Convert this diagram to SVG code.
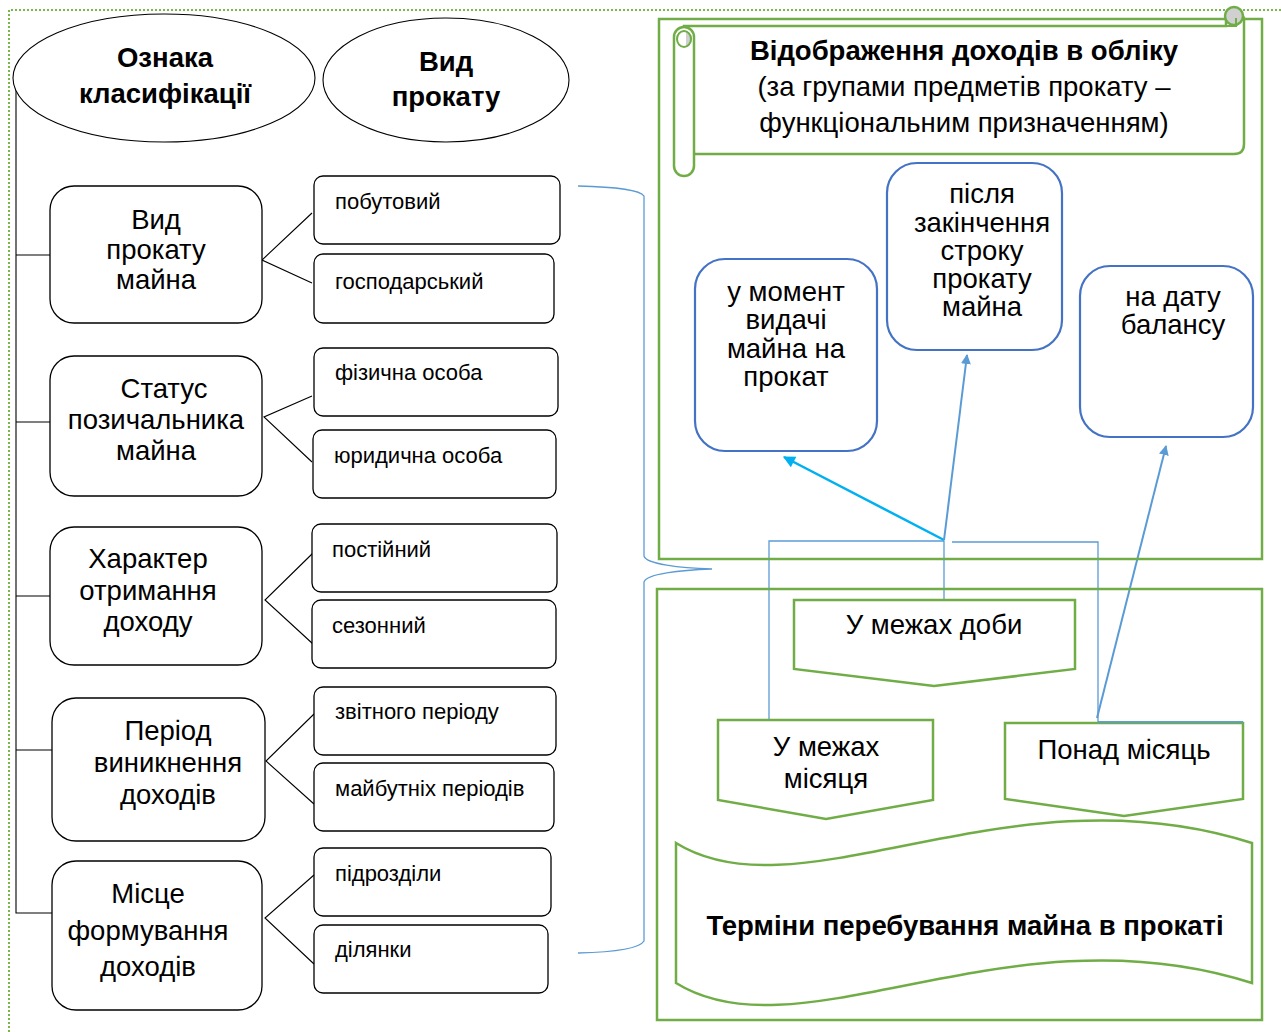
<svg xmlns="http://www.w3.org/2000/svg" width="1281" height="1032" viewBox="0 0 1281 1032">
<defs>
<marker id="ahBlue" viewBox="0 0 10 10" refX="9" refY="5" markerWidth="10" markerHeight="10" markerUnits="userSpaceOnUse" orient="auto"><path d="M0,0 L10,5 L0,10 Z" fill="#5B9BD5"/></marker>
<marker id="ahCyan" viewBox="0 0 10 10" refX="9" refY="5" markerWidth="14" markerHeight="12" markerUnits="userSpaceOnUse" orient="auto"><path d="M0,0 L10,5 L0,10 Z" fill="#00B0F0"/></marker>
</defs>
<style>
text{font-family:"Liberation Sans",Arial,sans-serif;fill:#000}
.big{font-size:27.5px;text-anchor:middle}
.bold{font-weight:bold}
.sub{font-size:22px}
.bx{fill:#fff;stroke:#000;stroke-width:1.3}
.gr{fill:none;stroke:#70AD47;stroke-width:2.5}
.grf{fill:#fff;stroke:#70AD47;stroke-width:2.5}
.bl{fill:#fff;stroke:#4472C4;stroke-width:2.2}
.thin{fill:none;stroke:#5B9BD5;stroke-width:1.3}
.ln{fill:none;stroke:#000;stroke-width:1.1}
</style>
<rect width="1281" height="1032" fill="#fff"/>
<path d="M9,1032 L9,10 L1281,10" fill="none" stroke="#7AB648" stroke-width="2" stroke-dasharray="2 2"/>

<g id="connectors">
<path class="ln" d="M16,84 L16,913 L52,913 M16,255 L50,255 M16,422 L50,422 M16,596 L50,596 M16,750 L52,750"/>
<path class="ln" d="M312,213 L262,260 L312,283 M312,396 L264,417 L312,462 M313,553 L265,600 L313,644 M314,714 L266,761 L314,804 M314,875 L265,918 L314,964"/>
<path class="thin" d="M578,186 C620,187 640,190 644,196 L644,556 C646,564 680,568 712,569 C680,570 646,574 644,582 L644,941 C640,948 620,952 578,953"/>
<path class="thin" d="M769,720 L769,541 L944,541 L944,600 M952,542 L1098,542 L1098,722 L1243,722"/>
<line x1="944" y1="540" x2="784" y2="457" stroke="#00B0F0" stroke-width="2.5" marker-end="url(#ahCyan)"/>
<line x1="944" y1="540" x2="967" y2="355" stroke="#5B9BD5" stroke-width="2" marker-end="url(#ahBlue)"/>
<line x1="1097" y1="718" x2="1166" y2="446" stroke="#5B9BD5" stroke-width="2" marker-end="url(#ahBlue)"/>
</g>

<g id="ell1"><ellipse cx="164" cy="78" rx="151" ry="64" fill="#fff" stroke="#000" stroke-width="1.1"/>
<text class="big bold" x="165" y="67">Ознака</text><text class="big bold" x="165" y="103">класифікації</text></g>
<g id="ell2"><ellipse cx="446" cy="80" rx="123" ry="62" fill="#fff" stroke="#000" stroke-width="1.1"/>
<text class="big bold" x="446" y="71">Вид</text><text class="big bold" x="446" y="106">прокату</text></g>

<g id="c1"><rect class="bx" x="50" y="186" width="212" height="137" rx="24"/>
<text class="big" x="156" y="229">Вид</text><text class="big" x="156" y="259">прокату</text><text class="big" x="156" y="289">майна</text></g>
<g id="c2"><rect class="bx" x="50" y="356" width="212" height="140" rx="24"/>
<text class="big" x="164" y="398">Статус</text><text class="big" x="156" y="429">позичальника</text><text class="big" x="156" y="460">майна</text></g>
<g id="c3"><rect class="bx" x="50" y="527" width="212" height="138" rx="24"/>
<text class="big" x="148" y="568">Характер</text><text class="big" x="148" y="600">отримання</text><text class="big" x="148" y="631">доходу</text></g>
<g id="c4"><rect class="bx" x="52" y="698" width="213" height="143" rx="24"/>
<text class="big" x="168" y="740">Період</text><text class="big" x="168" y="772">виникнення</text><text class="big" x="168" y="804">доходів</text></g>
<g id="c5"><rect class="bx" x="52" y="861" width="210" height="149" rx="24"/>
<text class="big" x="148" y="903">Місце</text><text class="big" x="148" y="940">формування</text><text class="big" x="148" y="976">доходів</text></g>

<g id="s1"><rect class="bx" x="314" y="176" width="246" height="68" rx="9"/><text class="sub" x="335" y="209">побутовий</text></g>
<g id="s2"><rect class="bx" x="314" y="254" width="240" height="69" rx="9"/><text class="sub" x="335" y="289">господарський</text></g>
<g id="s3"><rect class="bx" x="314" y="348" width="244" height="68" rx="9"/><text class="sub" x="335" y="380">фізична особа</text></g>
<g id="s4"><rect class="bx" x="313" y="430" width="243" height="68" rx="9"/><text class="sub" x="334" y="463">юридична особа</text></g>
<g id="s5"><rect class="bx" x="312" y="524" width="245" height="68" rx="9"/><text class="sub" x="332" y="557">постійний</text></g>
<g id="s6"><rect class="bx" x="312" y="600" width="244" height="68" rx="9"/><text class="sub" x="332" y="633">сезонний</text></g>
<g id="s7"><rect class="bx" x="314" y="687" width="242" height="68" rx="9"/><text class="sub" x="335" y="719">звітного періоду</text></g>
<g id="s8"><rect class="bx" x="314" y="763" width="240" height="68" rx="9"/><text class="sub" x="335" y="796">майбутніх періодів</text></g>
<g id="s9"><rect class="bx" x="314" y="848" width="237" height="68" rx="9"/><text class="sub" x="335" y="881">підрозділи</text></g>
<g id="s10"><rect class="bx" x="314" y="925" width="234" height="68" rx="9"/><text class="sub" x="335" y="957">ділянки</text></g>

<g id="upperFrame"><rect class="gr" x="659" y="19" width="603" height="540"/></g>
<g id="scroll">
<path class="grf" d="M684,26 L1226,26 L1226,18 A10,10 0 0 1 1244,18 L1244,144 Q1244,154 1234,154 L694,154 Z"/>
<circle cx="1234" cy="16" r="9" fill="#D0D0D0" stroke="#70AD47" stroke-width="2.5"/>
<path d="M1226,26 L1236,26 L1236,18" fill="none" stroke="#70AD47" stroke-width="2"/>
<rect class="grf" x="674" y="27" width="20" height="149" rx="10"/>
<path d="M686,32 A6,7 0 0 1 686,46 Z" fill="#D0D0D0"/>
<ellipse cx="684" cy="39" rx="7" ry="8" fill="none" stroke="#70AD47" stroke-width="2"/>
<text class="big bold" x="964" y="60">Відображення доходів в обліку</text>
<text class="big" x="964" y="96">(за групами предметів прокату –</text>
<text class="big" x="964" y="132">функціональним призначенням)</text>
</g>
<g id="b1"><rect class="bl" x="695" y="259" width="182" height="192" rx="30"/>
<text class="big" x="786" y="301">у момент</text><text class="big" x="786" y="329">видачі</text><text class="big" x="786" y="358">майна на</text><text class="big" x="786" y="386">прокат</text></g>
<g id="b2"><rect class="bl" x="887" y="163" width="175" height="187" rx="30"/>
<text class="big" x="982" y="203">після</text><text class="big" x="982" y="232">закінчення</text><text class="big" x="982" y="260">строку</text><text class="big" x="982" y="288">прокату</text><text class="big" x="982" y="316">майна</text></g>
<g id="b3"><rect class="bl" x="1080" y="266" width="173" height="171" rx="30"/>
<text class="big" x="1173" y="306">на дату</text><text class="big" x="1173" y="334">балансу</text></g>

<g id="lowerFrame"><rect class="gr" x="657" y="589" width="605" height="431"/></g>
<g id="p1"><path class="grf" d="M794,600 L1075,600 L1075,669 L934,686 L794,669 Z"/><text class="big" x="934" y="634">У межах доби</text></g>
<g id="p2"><path class="grf" d="M718,720 L933,720 L933,800 L826,819 L718,800 Z"/><text class="big" x="826" y="756">У межах</text><text class="big" x="826" y="788">місяця</text></g>
<g id="p3"><path class="grf" d="M1005,723 L1243,723 L1243,799 L1124,816 L1005,799 Z"/><text class="big" x="1124" y="759">Понад місяць</text></g>
<line x1="1098" y1="722" x2="1243" y2="722" stroke="#5B9BD5" stroke-width="1.5"/>
<g id="banner"><path class="grf" d="M676,843 C800,920 1010,765 1252,843 L1252,983 C1010,905 800,1060 676,983 Z"/>
<text class="big bold" x="965" y="935">Терміни перебування майна в прокаті</text></g>
</svg>
